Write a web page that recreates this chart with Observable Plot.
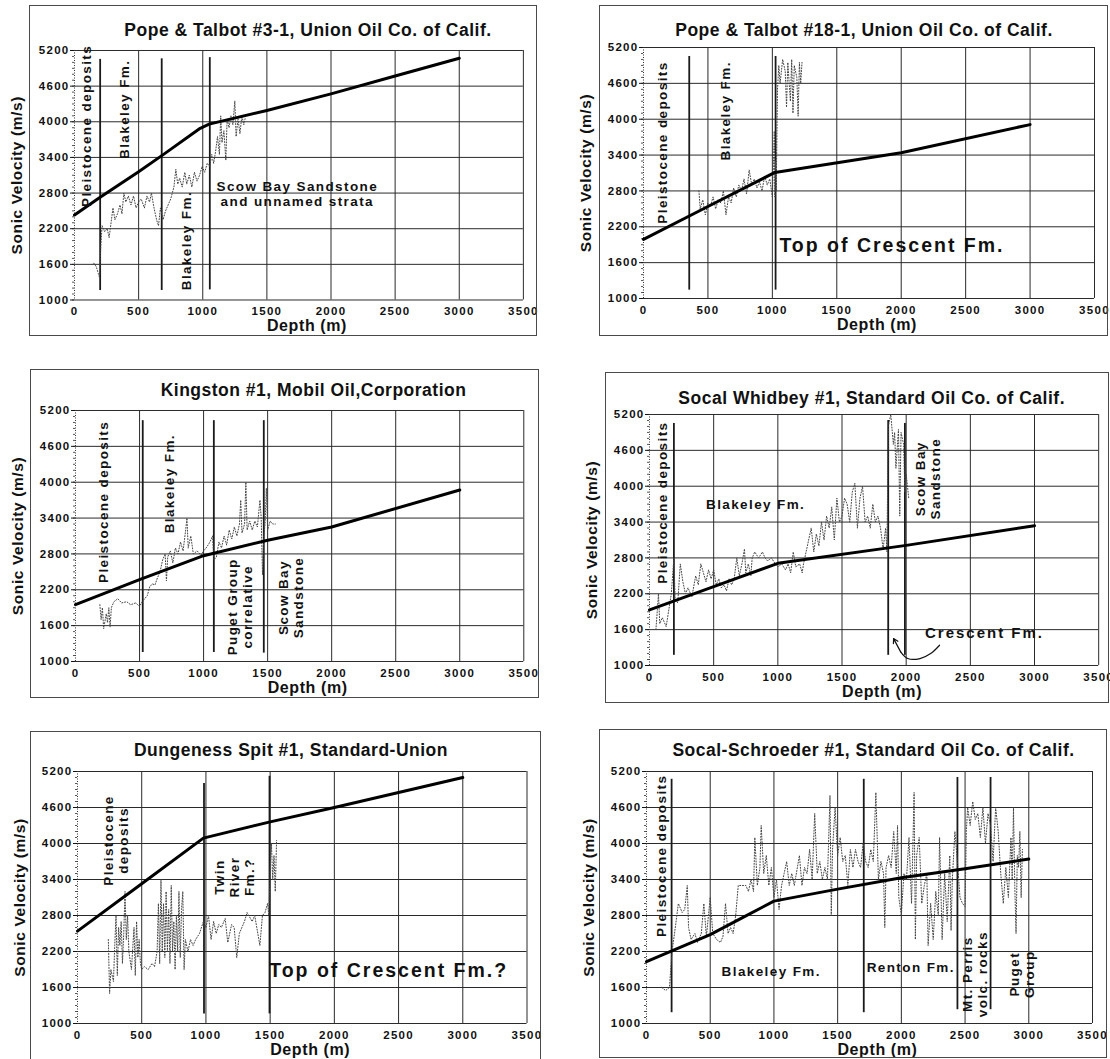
<!DOCTYPE html>
<html><head><meta charset="utf-8">
<script src="https://cdn.jsdelivr.net/npm/d3@7"></script>
<script src="https://cdn.jsdelivr.net/npm/@observablehq/plot@0.6"></script>
<style>
html,body{margin:0;padding:0;background:#fff;}
#wrap{position:relative;width:1110px;height:1059px;overflow:hidden;background:#fff;font-family:"Liberation Sans",Arial,sans-serif;}
.box{position:absolute;border:1px solid #4a4a4a;box-sizing:border-box;pointer-events:none;}
.ttl{position:absolute;width:600px;text-align:center;font-weight:bold;font-size:17.5px;letter-spacing:0.5px;line-height:22px;color:#111;white-space:nowrap;}
.pnl{position:absolute;}
</style></head><body><div id="wrap"></div>
<script>
// ---------- shared axis data ----------
const xTicks = [0, 500, 1000, 1500, 2000, 2500, 3000, 3500];
const yTicks = [1000, 1600, 2200, 2800, 3400, 4000, 4600, 5200];
const yAxisLabel = "Sonic Velocity (m/s)";
const xAxisLabel = "Depth (m)";
const titles = [
  "Pope & Talbot #3-1, Union Oil Co. of Calif.",
  "Pope & Talbot #18-1, Union Oil Co. of Calif.",
  "Kingston #1, Mobil Oil,Corporation",
  "Socal Whidbey #1, Standard Oil Co. of Calif.",
  "Dungeness Spit #1, Standard-Union",
  "Socal-Schroeder #1, Standard Oil Co. of Calif."
];

// ---------- Panel 1: Pope & Talbot #3-1 ----------
const p1TrendDepth = [0, 200, 500, 700, 980, 1050, 1500, 2000, 2500, 3000];
const p1TrendVel   = [2430, 2730, 3160, 3460, 3890, 3960, 4190, 4470, 4770, 5070];
const p1Log = [[150,1620],[170,1560],[185,1450],[195,1380],[205,1900],[215,2250],[235,2150],[255,2200],[270,2050],[285,2300],[300,2550],[315,2350],[335,2450],[355,2600],[370,2450],[385,2800],[400,2650],[420,2750],[440,2600],[460,2750],[480,2550],[500,2650],[520,2700],[545,2550],[565,2750],[585,2650],[600,2800],[620,2550],[640,2350],[655,2250],[670,2550],[690,2350],[710,2500],[730,2600],[750,2700],[775,2900],[790,3200],[805,2950],[820,3050],[840,2900],[860,3150],[875,2950],[895,3100],[915,2900],[935,3150],[955,3000],[975,3100],[995,3250],[1015,3150],[1035,3300],[1055,3250],[1070,3450],[1085,3300],[1100,3500],[1115,3750],[1130,3450],[1140,4100],[1150,3650],[1165,3850],[1180,3350],[1190,4050],[1205,3900],[1220,4100],[1235,3950],[1250,4350],[1260,3750],[1275,4050],[1290,3800],[1305,4100],[1320,3950],[1330,4050]];
const p1TopDepth = [200, 680, 1055];
const p1TopUpper = [5050, 5060, 5080];
const p1TopLower = [1160, 1160, 1170];
const p1LabelText  = ["Pleistocene deposits", "Blakeley Fm.", "Blakeley Fm.", "Scow Bay Sandstone\nand unnamed strata"];
const p1LabelDepth = [95, 387, 874, 1737];
const p1LabelVel   = [3930, 4210, 2000, 2790];
const p1LabelKind  = ["v", "v", "v", "h"];

// ---------- Panel 2: Pope & Talbot #18-1 ----------
const p2TrendDepth = [0, 500, 1020, 2000, 3000];
const p2TrendVel   = [1990, 2540, 3110, 3440, 3910];
const p2Log = [[430,2800],[440,2500],[460,2650],[480,2400],[500,2600],[520,2550],[540,2700],[560,2500],[580,2650],[600,2600],[620,2800],[640,2400],[660,2700],[680,2600],[700,2850],[720,2700],[740,2900],[760,2800],[780,3000],[800,2750],[820,3150],[840,2900],[860,3000],[880,2850],[900,2950],[920,2800],[940,3050],[960,2900],[980,3000],[1000,2700],[1010,3400],[1015,3800],[1020,2700],[1025,3300],[1030,2800],[1040,4500],[1050,4900],[1060,4600],[1080,5000],[1100,4800],[1110,4200],[1120,4950],[1140,4300],[1150,5000],[1160,4100],[1170,4900],[1190,4700],[1200,4050],[1210,4950],[1220,4600],[1230,4950]];
const p2TopDepth = [355, 1025];
const p2TopUpper = [5050, 5050];
const p2TopLower = [1140, 1140];
const p2LabelText  = ["Pleistocene deposits", "Blakeley Fm.", "Top of Crescent Fm."];
const p2LabelDepth = [144, 634, 1928];
const p2LabelVel   = [3610, 4140, 1890];
const p2LabelKind  = ["v", "v", "big"];

// ---------- Panel 3: Kingston #1 ----------
const p3TrendDepth = [0, 500, 1000, 1500, 2000, 3000];
const p3TrendVel   = [1950, 2370, 2770, 3030, 3250, 3870];
const p3Log = [[190,1950],[200,1700],[210,1900],[220,1550],[240,1800],[250,1650],[260,1900],[270,1580],[280,1900],[300,2000],[330,2050],[360,1980],[400,2000],[430,1950],[470,1980],[500,1920],[520,2000],[540,2050],[560,2100],[580,2250],[600,2300],[620,2280],[640,2400],[660,2500],[680,2700],[700,2800],[710,2350],[720,2750],[740,2850],[760,2650],[780,2900],[800,2800],[820,3000],[840,2850],[860,3200],[870,3400],[880,2900],[900,3100],[920,2800],[950,2850],[980,2780],[1000,2850],[1020,2900],[1050,3000],[1070,3100],[1080,2700],[1100,2750],[1120,3000],[1140,2900],[1160,3100],[1180,2950],[1200,3200],[1220,3050],[1240,3250],[1260,3100],[1280,3300],[1290,3700],[1300,3150],[1320,3300],[1330,4000],[1340,3200],[1360,3350],[1380,3200],[1400,3350],[1420,3250],[1440,3700],[1450,3400],[1460,2450],[1470,3100],[1480,3300],[1490,3900],[1500,3200],[1520,3350],[1540,3300],[1560,3300]];
const p3TopDepth = [525, 1080, 1470];
const p3TopUpper = [5030, 5030, 5030];
const p3TopLower = [1150, 1150, 1140];
const p3LabelText  = ["Pleistocene deposits", "Blakeley Fm.", "Puget Group\ncorrelative", "Scow Bay\nSandstone"];
const p3LabelDepth = [213, 732, 1282, 1682];
const p3LabelVel   = [3670, 3975, 1915, 2070];
const p3LabelKind  = ["v", "v", "v", "v"];

// ---------- Panel 4: Socal Whidbey #1 ----------
const p4TrendDepth = [0, 500, 1000, 2000, 3000];
const p4TrendVel   = [1930, 2320, 2710, 3010, 3340];
const p4Log = [[50,1600],[70,2200],[80,1700],[100,1800],[130,1650],[170,2200],[190,2800],[200,2100],[220,2050],[240,2700],[260,2400],[280,2200],[300,2300],[330,2150],[360,2500],[380,2350],[400,2700],[420,2550],[440,2400],[460,2600],[480,2450],[500,2600],[520,2350],[540,2450],[560,2300],[580,2350],[600,2250],[620,2450],[640,2350],[660,2450],[680,2800],[700,2500],[720,2700],[740,2950],[750,2550],[770,2700],[790,2500],[800,2800],[820,2900],[850,2800],[880,2900],[900,2800],[920,2750],[950,2800],[980,2700],[1000,2650],[1030,2700],[1060,2600],[1080,2700],[1100,2550],[1120,2900],[1140,2650],[1170,2700],[1190,2550],[1200,2700],[1220,2900],[1240,3100],[1260,3300],[1280,2900],[1300,3200],[1320,3000],[1340,3400],[1360,3100],[1380,3500],[1400,3300],[1420,3650],[1440,3100],[1460,3800],[1480,3400],[1500,3500],[1520,3800],[1540,3700],[1560,3400],[1580,3900],[1600,4050],[1620,3300],[1640,3800],[1660,4000],[1680,3400],[1700,3500],[1720,3300],[1740,3700],[1760,3400],[1780,3500],[1800,3300],[1820,2950],[1840,3300],[1850,2900],[1860,5000],[1880,5200],[1900,4700],[1910,4900],[1920,4300],[1940,4950],[1950,3500],[1960,4900],[1980,4700],[1990,3900],[2000,4200],[2020,3800]];
const p4TopDepth = [190, 1860, 1990];
const p4TopUpper = [5050, 5100, 5050];
const p4TopLower = [1170, 1170, 1170];
const p4LabelText  = ["Pleistocene deposits", "Blakeley Fm.", "Scow Bay\nSandstone", "Crescent Fm."];
const p4LabelDepth = [96, 827, 2169, 2610];
const p4LabelVel   = [3725, 3700, 4125, 1535];
const p4LabelKind  = ["v", "h", "v", "mid"];
const p4Arrow = [[2260,1339],[2191,1200],[2108,1116],[2012,1116],[1957,1228],[1902,1450]];

// ---------- Panel 5: Dungeness Spit #1 ----------
const p5TrendDepth = [0, 500, 980, 1500, 2000, 3000];
const p5TrendVel   = [2540, 3330, 4090, 4360, 4600, 5100];
const p5Log = [[240,2400],[250,1500],[260,1900],[280,1700],[290,2300],[300,2800],[310,1800],[320,2600],[330,2300],[340,2700],[350,2000],[360,2500],[370,3200],[380,2400],[390,2800],[400,2200],[420,1900],[440,2600],[450,1800],[460,2700],[470,2100],[480,2400],[490,2000],[500,1900],[520,1950],[550,1900],[580,2000],[600,1950],[620,2200],[630,3000],[640,2000],[650,3400],[660,2200],[670,3000],[680,2100],[690,3200],[700,2200],[710,2900],[720,2000],[730,3300],[740,2200],[750,2700],[760,1900],[770,2800],[780,2200],[790,3200],[800,2100],[810,2900],[820,3200],[830,1900],[840,2400],[860,2200],[880,2400],[900,2300],[920,2400],[950,2500],[980,2700],[1000,2600],[1020,2800],[1040,2400],[1060,2700],[1080,2500],[1100,2650],[1120,2600],[1150,2750],[1170,2350],[1200,2650],[1220,2600],[1240,2100],[1260,2500],[1300,2700],[1320,2850],[1360,2700],[1380,2800],[1400,2550],[1420,2300],[1440,2800],[1460,2850],[1480,3000],[1490,2800],[1500,3600],[1510,4000],[1520,3400],[1530,3800],[1540,3200],[1550,4050]];
const p5TopDepth = [985, 1495];
const p5TopUpper = [5000, 5120];
const p5TopLower = [1160, 1160];
const p5LabelText  = ["Pleistocene\ndeposits", "Twin\nRiver\nFm.?", "Top of Crescent Fm.?"];
const p5LabelDepth = [300, 1218, 2423];
const p5LabelVel   = [4050, 3440, 1887];
const p5LabelKind  = ["v", "v", "big"];

// ---------- Panel 6: Socal-Schroeder #1 ----------
const p6TrendDepth = [0, 500, 750, 1000, 1500, 2000, 2500, 3000];
const p6TrendVel   = [2030, 2480, 2760, 3040, 3240, 3430, 3580, 3740];
const p6Log = [[120,1600],[150,1550],[180,1600],[200,2200],[220,2500],[250,3000],[280,2850],[300,2900],[320,3300],[330,2600],[350,2400],[380,2500],[400,2350],[430,2500],[450,3000],[470,2450],[500,3100],[520,2500],[550,2400],[580,2350],[600,2450],[620,3000],[640,2500],[660,2600],[680,2500],[700,2800],[720,3300],[750,3300],[780,3300],[800,3200],[820,3400],[840,3200],[850,4100],[870,3300],[890,3600],[900,4300],[920,3500],[940,3800],[960,3300],[980,3600],[1000,3100],[1020,3400],[1040,2900],[1060,3300],[1080,3500],[1100,3700],[1120,3300],[1140,3500],[1160,3300],[1200,3800],[1220,3300],[1240,3600],[1260,3500],[1280,3900],[1300,3400],[1320,4500],[1340,3500],[1360,3700],[1380,3400],[1400,3600],[1420,3400],[1440,4800],[1450,2800],[1460,3900],[1480,4600],[1500,3800],[1520,4100],[1540,3700],[1560,3800],[1580,3300],[1600,3900],[1620,3600],[1640,3900],[1660,3700],[1680,3600],[1700,4000],[1720,3700],[1740,3600],[1760,3900],[1780,3700],[1800,4850],[1820,3400],[1840,3700],[1860,3500],[1870,2600],[1880,3600],[1900,3800],[1920,3600],[1940,4200],[1960,3500],[1970,4300],[1980,3100],[2000,2800],[2020,3500],[2040,3400],[2060,4100],[2080,3000],[2100,4850],[2110,2400],[2120,3800],[2140,4100],[2160,3000],[2180,3300],[2200,3500],[2210,2300],[2230,3000],[2250,2400],[2270,3200],[2290,2800],[2300,4100],[2320,2400],[2340,3500],[2360,2700],[2380,3800],[2390,2550],[2400,3400],[2420,4200],[2440,3700],[2460,3100],[2480,3000],[2500,2950],[2510,4200],[2520,4600],[2540,4300],[2560,4700],[2580,4400],[2600,4500],[2620,4100],[2640,4600],[2660,4000],[2680,4500],[2700,4300],[2720,3700],[2740,4600],[2760,4200],[2780,3500],[2800,3000],[2820,3600],[2840,3100],[2860,4100],[2870,3400],[2880,4600],[2890,3300],[2900,2500],[2910,3800],[2920,3600],[2930,4200],[2940,3100],[2950,3900]];
const p6TopDepth = [197, 1705, 2440, 2700];
const p6TopUpper = [5070, 5070, 5100, 5100];
const p6TopLower = [1180, 1180, 1230, 1230];
const p6LabelText  = ["Pleistocene deposits", "Blakeley Fm.", "Renton Fm.", "Mt. Perris\nvolc. rocks", "Puget\nGroup"];
const p6LabelDepth = [114, 979, 2074, 2573, 2948];
const p6LabelVel   = [3795, 1866, 1933, 1822, 1822];
const p6LabelKind  = ["v", "h", "h", "v", "v"];

// ---------- layout (pixel placement of each panel) ----------
const layout = [
  {x0:73.6, x1:522.5, y0:49.5, y1:299, box:[28.6,5,537.5,336], tx:308, ty:30},
  {x0:643, x1:1094, y0:47, y1:298, box:[598.6,5,1108,336], tx:864, ty:30},
  {x0:75.4, x1:523.7, y0:410, y1:661, box:[30,369,539,698], tx:313.5, ty:390},
  {x0:648.8, x1:1098, y0:414, y1:665, box:[604.5,372,1109,703], tx:871.7, ty:398},
  {x0:77, x1:526.5, y0:771, y1:1023, box:[30,731,540.7,1064], tx:291, ty:750},
  {x0:646, x1:1092, y0:771, y1:1023, box:[599,729,1107,1058], tx:873.5, ty:750}
];

const panels = [
  {trendDepth:p1TrendDepth, trendVel:p1TrendVel, log:p1Log, topDepth:p1TopDepth, topUpper:p1TopUpper, topLower:p1TopLower, labelText:p1LabelText, labelDepth:p1LabelDepth, labelVel:p1LabelVel, labelKind:p1LabelKind},
  {trendDepth:p2TrendDepth, trendVel:p2TrendVel, log:p2Log, topDepth:p2TopDepth, topUpper:p2TopUpper, topLower:p2TopLower, labelText:p2LabelText, labelDepth:p2LabelDepth, labelVel:p2LabelVel, labelKind:p2LabelKind},
  {trendDepth:p3TrendDepth, trendVel:p3TrendVel, log:p3Log, topDepth:p3TopDepth, topUpper:p3TopUpper, topLower:p3TopLower, labelText:p3LabelText, labelDepth:p3LabelDepth, labelVel:p3LabelVel, labelKind:p3LabelKind},
  {trendDepth:p4TrendDepth, trendVel:p4TrendVel, log:p4Log, topDepth:p4TopDepth, topUpper:p4TopUpper, topLower:p4TopLower, labelText:p4LabelText, labelDepth:p4LabelDepth, labelVel:p4LabelVel, labelKind:p4LabelKind, arrow:p4Arrow},
  {trendDepth:p5TrendDepth, trendVel:p5TrendVel, log:p5Log, topDepth:p5TopDepth, topUpper:p5TopUpper, topLower:p5TopLower, labelText:p5LabelText, labelDepth:p5LabelDepth, labelVel:p5LabelVel, labelKind:p5LabelKind},
  {trendDepth:p6TrendDepth, trendVel:p6TrendVel, log:p6Log, topDepth:p6TopDepth, topUpper:p6TopUpper, topLower:p6TopLower, labelText:p6LabelText, labelDepth:p6LabelDepth, labelVel:p6LabelVel, labelKind:p6LabelKind}
];

const FONT = '"Liberation Sans", Arial, Helvetica, sans-serif';
const wrap = document.getElementById("wrap");
const yMinor = d3.range(1000, 5201, 100);

panels.forEach((p, i) => {
  const L = layout[i];
  const mL = 78, mR = 14, mT = 40, mB = 42;
  const width = (L.x1 - L.x0) + mL + mR;
  const height = (L.y1 - L.y0) + mT + mB;
  const trend = p.trendDepth.map((d, k) => ({d, v: p.trendVel[k]}));
  const log = p.log.map(([d, v]) => ({d, v}));
  const tops = p.topDepth.map((d, k) => ({d, a: p.topUpper[k], b: p.topLower[k]}));
  const labs = p.labelText.map((t, k) => ({t, d: p.labelDepth[k], v: p.labelVel[k], kind: p.labelKind[k]}));
  const marks = [
    Plot.gridX({ticks: xTicks.slice(1), stroke: "#2a2a2a", strokeOpacity: 1, strokeWidth: 1}),
    Plot.gridY({ticks: yTicks, stroke: "#2a2a2a", strokeOpacity: 1, strokeWidth: 1}),
    Plot.ruleX([0], {stroke: "#333", strokeDasharray: "1,1.5"}),
    Plot.axisY({ticks: yMinor, tickSize: 2, tickFormat: () => "", stroke: "#555", label: null}),
    Plot.axisY({ticks: yTicks, tickSize: 4, tickPadding: 1, tickFormat: d => String(d), label: null, fill: "#111", fontWeight: "bold", fontSize: 11.5}),
    Plot.axisX({ticks: xTicks, tickSize: 0, tickPadding: 7, tickFormat: d => String(d), label: null, fill: "#111", fontWeight: "bold", fontSize: 11.5}),
    Plot.ruleX(tops, {x: "d", y1: "a", y2: "b", stroke: "#1a1a1a", strokeWidth: 1.8}),
    Plot.line(log, {x: "d", y: "v", stroke: "#444", strokeWidth: 1, strokeDasharray: "1,1.8"}),
    Plot.line(trend, {x: "d", y: "v", stroke: "#000", strokeWidth: 3, strokeLinejoin: "round"}),
    Plot.text(labs.filter(l => l.kind === "v" || l.kind === "h"), {x: "d", y: "v", text: "t", rotate: l => l.kind === "v" ? -90 : 0, fontSize: 13.5, fontWeight: "bold", lineHeight: 1.1, fill: "#111"}),
    Plot.text(labs.filter(l => l.kind === "big"), {x: "d", y: "v", text: "t", fontSize: 19.5, fontWeight: "bold", fill: "#111"}),
    Plot.text(labs.filter(l => l.kind === "mid"), {x: "d", y: "v", text: "t", fontSize: 15, fontWeight: "bold", fill: "#111"}),
    Plot.text([yAxisLabel], {frameAnchor: "left", textAnchor: "middle", lineAnchor: "middle", dx: -57, rotate: -90, fontSize: 15.5, fontWeight: "bold", fill: "#111"}),
    Plot.text([xAxisLabel], {frameAnchor: "bottom", textAnchor: "middle", lineAnchor: "middle", dx: 8, dy: 26, fontSize: 16, fontWeight: "bold", fill: "#111"})
  ];
  if (p.arrow) {
    const pts = p.arrow.map(([d, v]) => ({d, v}));
    marks.push(Plot.line(pts.slice(0, -1), {x: "d", y: "v", curve: "catmull-rom", stroke: "#111", strokeWidth: 1.2}));
    const a = pts[pts.length - 2], b = pts[pts.length - 1];
    marks.push(Plot.arrow([{a, b}], {x1: q => q.a.d, y1: q => q.a.v, x2: q => q.b.d, y2: q => q.b.v, stroke: "#111", strokeWidth: 1.2, headLength: 9}));
  }
  const svg = Plot.plot({
    width, height,
    marginLeft: mL, marginRight: mR, marginTop: mT, marginBottom: mB,
    x: {domain: [0, 3500], label: null},
    y: {domain: [1000, 5200], label: null},
    style: {fontFamily: FONT, fontSize: "11px", fontWeight: "bold", background: "transparent", overflow: "visible", color: "#111"},
    marks
  });
  svg.classList.add("pnl");
  svg.style.left = (L.x0 - mL) + "px";
  svg.style.top = (L.y0 - mT) + "px";
  svg.style.position = "absolute";
  svg.style.maxWidth = "none";

  // letter spacing by text role (identified from its content)
  const kindOf = new Map(labs.map(l => [l.t.replace(/\n/g, ""), l.kind]));
  svg.querySelectorAll("text").forEach(t => {
    const s = t.textContent.trim();
    let ls = null;
    if (/^\d+$/.test(s)) ls = "1.3px";
    else if (s === yAxisLabel || s === xAxisLabel) ls = "0.6px";
    else if (kindOf.has(s)) {
      const k = kindOf.get(s);
      ls = (k === "big" || k === "mid") ? "2px" : "1.4px";
    }
    if (ls) { t.style.letterSpacing = ls; t.setAttribute("letter-spacing", ls); }
  });
  wrap.appendChild(svg);

  const box = document.createElement("div");
  box.className = "box";
  box.style.left = L.box[0] + "px";
  box.style.top = L.box[1] + "px";
  box.style.width = (L.box[2] - L.box[0]) + "px";
  box.style.height = (L.box[3] - L.box[1]) + "px";
  wrap.appendChild(box);

  const ttl = document.createElement("div");
  ttl.className = "ttl";
  ttl.textContent = titles[i];
  ttl.style.left = (L.tx - 300) + "px";
  ttl.style.top = (L.ty - 11) + "px";
  wrap.appendChild(ttl);
});
</script></body></html>
